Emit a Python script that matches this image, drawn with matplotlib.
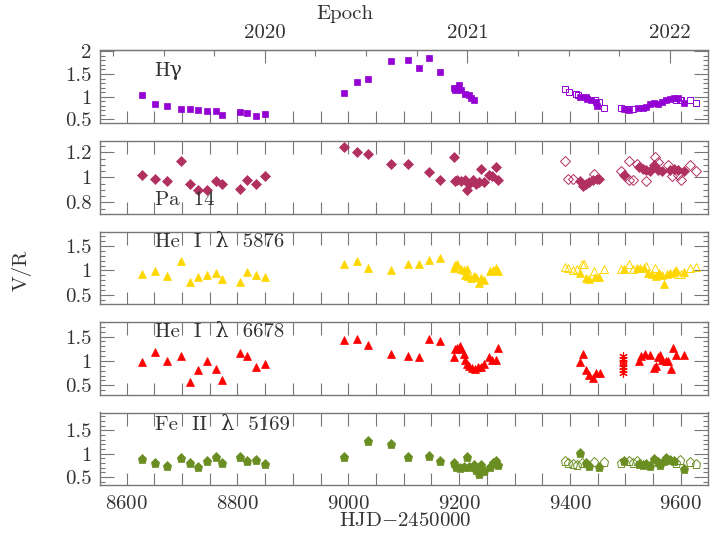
import matplotlib
matplotlib.use("Agg")
import matplotlib.pyplot as plt
from matplotlib.ticker import MultipleLocator, FixedLocator, FuncFormatter

plt.rcParams['font.family'] = ['cmr10', 'DejaVu Serif']
plt.rcParams['mathtext.fontset'] = 'cm'
plt.rcParams['axes.formatter.use_mathtext'] = True

# ---------------- data ----------------
# H gamma
hg_fx = [8628, 8652, 8672, 8698, 8714, 8729, 8745, 8762, 8772, 8804, 8818, 8833, 8850,
         8993, 9015, 9036, 9077, 9107, 9128, 9146, 9165, 9190, 9192, 9199, 9203, 9211, 9217, 9222, 9227,
         9418, 9428, 9431, 9438, 9447, 9448,
         9497, 9506, 9523, 9531, 9538, 9545, 9552, 9559, 9566, 9573, 9580, 9587, 9594, 9605]
hg_fy = [1.04, 0.83, 0.79, 0.72, 0.72, 0.70, 0.69, 0.68, 0.59, 0.67, 0.64, 0.57, 0.62,
         1.09, 1.33, 1.40, 1.78, 1.82, 1.63, 1.86, 1.55, 1.20, 1.15, 1.25, 1.14, 1.07, 1.03, 0.97, 0.93,
         0.99, 0.99, 0.95, 0.92, 0.88, 0.79,
         0.73, 0.70, 0.75, 0.76, 0.78, 0.83, 0.85, 0.83, 0.88, 0.92, 0.94, 0.96, 0.96, 0.86]
hg_ox = [9391, 9398, 9410, 9414, 9445, 9452, 9462, 9492, 9502, 9513, 9591, 9598, 9601, 9616, 9628]
hg_oy = [1.17, 1.10, 1.07, 1.03, 0.92, 0.88, 0.74, 0.74, 0.72, 0.73, 0.92, 0.93, 0.92, 0.92, 0.86]

# Pa 14
pa_fx = [8628, 8652, 8672, 8698, 8714, 8729, 8745, 8762, 8772, 8804, 8818, 8833, 8850,
         8993, 9015, 9036, 9077, 9107, 9146, 9165, 9190, 9192, 9197, 9204, 9211, 9215, 9218, 9225,
         9231, 9236, 9239, 9245, 9253, 9259, 9266, 9271,
         9418, 9423, 9428, 9435, 9442, 9449, 9453,
         9497, 9524, 9531, 9538, 9545, 9552, 9559, 9566, 9580, 9587, 9594, 9606]
pa_fy = [1.02, 0.99, 0.97, 1.13, 0.95, 0.90, 0.90, 0.97, 0.95, 0.91, 0.98, 0.95, 1.01,
         1.24, 1.20, 1.19, 1.11, 1.11, 1.04, 0.98, 1.16, 0.97, 0.98, 0.97, 0.98, 0.90, 0.95, 0.98,
         0.95, 0.96, 1.07, 0.96, 1.02, 1.01, 1.08, 0.98,
         0.97, 0.93, 0.95, 0.96, 0.98, 0.99, 0.99,
         1.02, 1.08, 1.07, 1.06, 1.05, 1.10, 1.06, 1.05, 1.06, 1.07, 1.06, 1.05]
pa_ox = [9391, 9397, 9405, 9444, 9492, 9499, 9506, 9507, 9514, 9520, 9538, 9553, 9559,
         9577, 9584, 9594, 9601, 9616, 9628]
pa_oy = [1.13, 0.99, 0.99, 1.03, 1.05, 1.01, 0.98, 1.13, 0.98, 1.11, 0.97, 1.16, 1.12,
         1.10, 1.01, 1.02, 0.98, 1.10, 1.05]

# He I 5876
h58_fx = [8628, 8652, 8672, 8698, 8714, 8729, 8745, 8762, 8772, 8804, 8818, 8833, 8850,
          8993, 9015, 9036, 9077, 9107, 9128, 9146, 9165, 9190, 9192, 9197, 9203, 9208, 9215, 9211,
          9216, 9222, 9226, 9231, 9236, 9240, 9245, 9256, 9261, 9266, 9271,
          9418, 9428, 9435, 9446, 9453,
          9497, 9520, 9527, 9534, 9541, 9548, 9555, 9561, 9566, 9570, 9575, 9580, 9587, 9591, 9606]
h58_fy = [0.92, 0.99, 0.88, 1.19, 0.76, 0.86, 0.90, 0.94, 0.83, 0.77, 0.97, 0.90, 0.86,
          1.14, 1.19, 1.04, 1.01, 1.14, 1.14, 1.21, 1.26, 1.04, 1.12, 1.14, 1.02, 1.00, 1.02, 0.90,
          0.88, 0.85, 0.88, 0.86, 0.74, 0.85, 0.80, 0.99, 1.00, 1.04, 0.99,
          0.95, 0.85, 0.83, 0.87, 0.87,
          1.02, 1.04, 1.04, 1.04, 0.94, 0.93, 0.88, 0.95, 0.90, 0.73, 0.92, 0.95, 0.97, 1.00, 0.97]
h58_ox = [9391, 9397, 9405, 9412, 9422, 9426, 9444, 9462,
          9492, 9506, 9513, 9538, 9553, 9594, 9601, 9616, 9628]
h58_oy = [1.07, 1.04, 1.00, 1.03, 1.14, 1.14, 0.99, 1.02,
          1.02, 1.14, 1.02, 1.09, 1.04, 0.92, 0.92, 1.04, 1.08]

# He I 6678
h66_fx = [8628, 8652, 8672, 8698, 8714, 8729, 8745, 8762, 8772, 8804, 8818, 8833, 8850,
          8993, 9015, 9036, 9077, 9107, 9128, 9146, 9165, 9190, 9192, 9197, 9201, 9203, 9208, 9211,
          9215, 9218, 9224, 9229, 9234, 9240, 9245, 9254, 9259, 9266, 9271,
          9418, 9423, 9428, 9435, 9442, 9447, 9454,
          9524, 9529, 9535, 9545, 9552, 9555, 9559, 9563, 9566, 9573, 9577, 9582, 9586, 9592, 9606]
h66_fy = [0.97, 1.19, 1.00, 1.10, 0.57, 0.81, 0.99, 0.83, 0.60, 1.17, 1.10, 0.88, 0.93,
          1.43, 1.45, 1.33, 1.15, 1.10, 1.08, 1.46, 1.41, 1.08, 1.24, 1.26, 1.30, 1.24, 1.14, 1.01,
          0.93, 0.90, 0.85, 0.84, 0.88, 0.88, 0.93, 1.08, 1.02, 1.02, 1.26,
          0.97, 1.15, 0.81, 0.72, 0.64, 0.76, 0.76,
          0.99, 1.10, 1.14, 1.12, 0.85, 0.90, 1.09, 1.12, 1.02, 0.99, 0.99, 0.83, 1.26, 1.12, 1.12]
h66_sx = [9495, 9496, 9495, 9496, 9495, 9496, 9495]
h66_sy = [1.10, 1.03, 0.97, 0.93, 0.88, 0.82, 0.75]

# Fe II 5169
fe_fx = [8628, 8652, 8672, 8698, 8714, 8729, 8745, 8762, 8772, 8804, 8818, 8833, 8850,
         8993, 9036, 9077, 9107, 9146, 9165, 9190, 9194, 9201, 9208, 9215, 9218, 9226, 9231, 9236,
         9240, 9245, 9256, 9261, 9266, 9271,
         9418, 9428, 9435, 9453,
         9497, 9524, 9531, 9538, 9545, 9552, 9559, 9563, 9570, 9573, 9580, 9587, 9606]
fe_fy = [0.88, 0.81, 0.73, 0.90, 0.81, 0.72, 0.85, 0.93, 0.81, 0.93, 0.85, 0.86, 0.78,
         0.92, 1.26, 1.20, 0.93, 0.96, 0.85, 0.80, 0.72, 0.70, 0.72, 0.92, 0.72, 0.75, 0.64, 0.57,
         0.75, 0.63, 0.72, 0.79, 0.84, 0.75,
         1.01, 0.79, 0.73, 0.72,
         0.84, 0.78, 0.75, 0.78, 0.73, 0.88, 0.83, 0.75, 0.84, 0.91, 0.86, 0.84, 0.68]
fe_ox = [9391, 9397, 9405, 9412, 9421, 9444, 9462,
         9492, 9506, 9513, 9520, 9591, 9598, 9616, 9628]
fe_oy = [0.84, 0.79, 0.78, 0.75, 0.79, 0.83, 0.83,
         0.79, 0.84, 0.81, 0.85, 0.79, 0.86, 0.83, 0.78]

epoch_years = [2020, 2021, 2022]
line_labels = ['H\u03b3', 'Pa  14', 'He  I  \u03bb  5876', 'He  I  \u03bb  6678',
               'Fe  II  \u03bb  5169']

# ---------------- figure ----------------
W, H = 716, 549
fig = plt.figure(figsize=(W / 100, H / 100), dpi=100)

left_px, right_px = 100, 708
tops = [50, 141, 231.5, 322, 412.5]
hpx = 72.5
ylims = [(0.43, 2.03), (0.71, 1.29), (0.31, 1.80), (0.31, 1.80), (0.33, 1.88)]
ymaj = [0.5, 0.2, 0.5, 0.5, 0.5]
ymin = [0.1, 0.05, 0.1, 0.1, 0.1]
label_y = [0.71, 0.18, 0.86, 0.86, 0.83]

series = [
    (hg_fx, hg_fy, hg_ox, hg_oy, 's', 5.0, '#9400d3'),
    (pa_fx, pa_fy, pa_ox, pa_oy, 'D', 5.0, '#b03060'),
    (h58_fx, h58_fy, h58_ox, h58_oy, '^', 6.0, '#ffd700'),
    (h66_fx, h66_fy, None, None, '^', 6.0, '#ff0000'),
    (fe_fx, fe_fy, fe_ox, fe_oy, 'p', 6.5, '#6b8e23'),
]

spine_col = '#777777'
text_col = '#333333'
FS = 15
xlim = (8552, 9649)

axes = []
for i in range(5):
    b = 1 - (tops[i] + hpx) / H
    ax = fig.add_axes([left_px / W, b, (right_px - left_px) / W, hpx / H])
    axes.append(ax)
    fx, fy, ox, oy, mk, ms, col = series[i]
    ax.plot(fx, fy, ls='none', marker=mk, ms=ms, mfc=col, mec=col, mew=0.5, zorder=3)
    if ox is not None:
        ax.plot(ox, oy, ls='none', marker=mk, ms=ms, mfc='none', mec=col, mew=0.7, zorder=3)
    if i == 3:
        ax.plot(h66_sx, h66_sy, ls='none', marker=(6, 2, 0), ms=6, mec=col, mew=0.8, zorder=3)
    ax.set_xlim(*xlim)
    ax.set_ylim(*ylims[i])
    for s in ax.spines.values():
        s.set_color(spine_col)
        s.set_linewidth(1.0)
    ax.xaxis.set_major_locator(MultipleLocator(200))
    ax.xaxis.set_minor_locator(MultipleLocator(50))
    ax.yaxis.set_major_locator(MultipleLocator(ymaj[i]))
    ax.yaxis.set_minor_locator(MultipleLocator(ymin[i]))
    ax.yaxis.set_major_formatter(FuncFormatter(lambda v, p: ('%g' % v)))
    ax.tick_params(axis='both', which='both', direction='in', color=spine_col, labelcolor=text_col,
                   labelsize=FS, width=0.8)
    ax.tick_params(axis='y', which='major', length=10, left=True, right=True, pad=6)
    ax.tick_params(axis='y', which='minor', length=3.5, left=True, right=True)
    ax.tick_params(axis='x', which='both', length=9, bottom=True, top=(i != 0))
    if i != 4:
        ax.tick_params(axis='x', labelbottom=False)
    else:
        ax.tick_params(axis='x', pad=7)
    ax.text(0.09, label_y[i], line_labels[i], transform=ax.transAxes, fontsize=FS,
            color=text_col, va='center', ha='left')

# top epoch axis (identity transform, ticks placed at calendar-year JDs)
ax0 = axes[0]
top = ax0.secondary_xaxis('top')
year_pos = [8849.5 + (y - 2020) * 365.25 for y in epoch_years]
quarter_pos = [8849.5 + (k / 4 - 1) * 365.25 for k in range(0, 14)]
quarter_pos = [q for q in quarter_pos if xlim[0] < q < xlim[1]]
top.set_xticks(year_pos)
top.set_xticklabels([str(y) for y in epoch_years])
top.xaxis.set_minor_locator(FixedLocator(quarter_pos))
top.spines['top'].set_color(spine_col)
top.tick_params(axis='x', which='major', direction='in', length=9, color=spine_col,
                labelcolor=text_col, labelsize=FS, pad=6, width=0.8)
top.tick_params(axis='x', which='minor', direction='in', length=4, color=spine_col, width=0.8)

fig.text(345 / W, 1 - 14 / H, 'Epoch', fontsize=FS, color=text_col, ha='center', va='center')
fig.text(22 / W, 1 - 270 / H, 'V/R', fontsize=FS, color=text_col, ha='center', va='center',
         rotation=90)
fig.text(405 / W, 1 - 521 / H, r'HJD$-$2450000', fontsize=FS, color=text_col, ha='center',
         va='center')

fig.savefig('out.png', dpi=100)
